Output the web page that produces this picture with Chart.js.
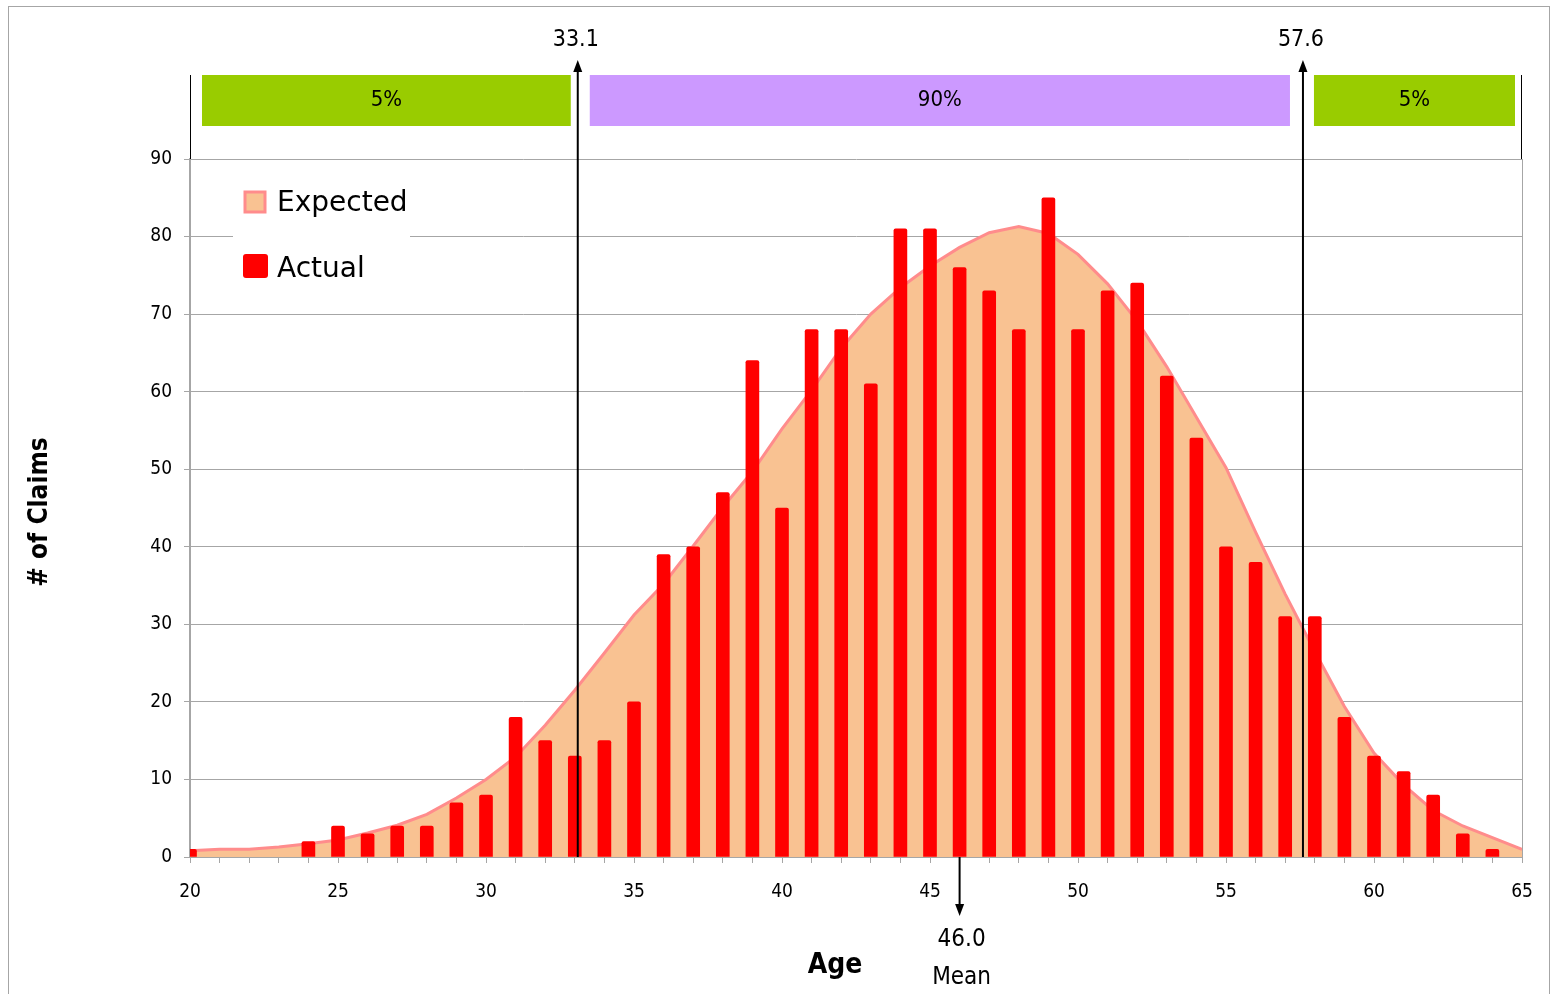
<!DOCTYPE html>
<html lang="en">
<head>
  <meta charset="UTF-8" />
  <title>Claims by Age</title>
  <script src="https://cdn.jsdelivr.net/npm/chart.js"></script>
  <style>
    html, body { margin: 0; padding: 0; background: #fff; }
    #wrap { width: 1552px; height: 994px; }
  </style>
</head>
<body>
  <div id="wrap"><canvas id="claimsChart" width="1552" height="994"></canvas></div>

  <script>
    // ages 20..65
    const ages = [20,21,22,23,24,25,26,27,28,29,30,31,32,33,34,35,36,37,38,39,40,41,42,
                  43,44,45,46,47,48,49,50,51,52,53,54,55,56,57,58,59,60,61,62,63,64,65];
    const actual = [1,0,0,0,2,4,3,4,4,7,8,18,15,13,15,20,39,40,47,64,45,68,68,
                    61,81,81,76,73,68,85,68,73,74,62,54,40,38,31,31,18,13,11,8,3,1,0];
    const expected = [0.8,1.0,1.0,1.3,1.7,2.2,3.1,4.1,5.5,7.6,10.0,12.9,17.0,21.5,26.3,31.2,35.2,40.1,45.1,49.7,55.2,60.2,65.6,
                      70.0,73.4,76.2,78.6,80.5,81.3,80.4,77.7,73.9,69.1,63.2,56.7,50.2,41.9,33.9,26.5,19.4,13.4,9.3,6.0,4.0,2.5,1.0];
    const yTicks = [0,10,20,30,40,50,60,70,80,90];
    const cutoffs = [33.1, 57.6];
    const meanAge = 46.0;
    const bandLabels = ['5%', '90%', '5%'];

    const COND = "'DejaVu Sans Condensed', 'Liberation Sans Narrow', sans-serif";
    const SANS = "'DejaVu Sans', sans-serif";

    function arrowHead(ctx, x, y, dir) {
      // dir -1 = pointing up, 1 = pointing down
      ctx.beginPath();
      ctx.moveTo(x, y);
      ctx.lineTo(x - 4.5, y - dir * 12);
      ctx.lineTo(x + 4.5, y - dir * 12);
      ctx.closePath();
      ctx.fill();
    }

    const decor = {
      id: 'decor',
      beforeDraw(chart) {
        const ctx = chart.ctx;
        ctx.save();
        ctx.strokeStyle = '#a6a6a6';
        ctx.lineWidth = 1;
        ctx.strokeRect(8.5, 6.5, 1541, 1010);
        ctx.restore();
      },
      afterDatasetsDraw(chart) {
        const ctx = chart.ctx;
        const xs = chart.scales.x;
        const a = chart.chartArea;
        ctx.save();

        // right border of the plot
        ctx.strokeStyle = '#a6a6a6';
        ctx.lineWidth = 1;
        ctx.beginPath();
        ctx.moveTo(a.right + 0.5, a.top);
        ctx.lineTo(a.right + 0.5, a.bottom);
        ctx.stroke();

        // band frame edges
        ctx.strokeStyle = '#000';
        ctx.beginPath();
        ctx.moveTo(a.left + 0.5, 75); ctx.lineTo(a.left + 0.5, a.top);
        ctx.moveTo(a.right - 0.5, 75); ctx.lineTo(a.right - 0.5, a.top);
        ctx.stroke();

        // percentage bands
        const c1 = xs.getPixelForValue(cutoffs[0]);
        const c2 = xs.getPixelForValue(cutoffs[1]);
        const bands = [
          [a.left + 12, c1 - 7, '#99cc00'],
          [c1 + 12, c2 - 13, '#cc99ff'],
          [c2 + 11, a.right - 7, '#99cc00']
        ];
        ctx.font = '22px ' + COND;
        ctx.textAlign = 'center';
        ctx.textBaseline = 'middle';
        bands.forEach((b, i) => {
          ctx.fillStyle = b[2];
          ctx.fillRect(b[0], 75, b[1] - b[0], 51);
          ctx.fillStyle = '#000';
          ctx.fillText(bandLabels[i], (b[0] + b[1]) / 2, 100);
        });

        // cutoff lines with arrows
        ctx.strokeStyle = '#000';
        ctx.fillStyle = '#000';
        ctx.lineWidth = 2;
        cutoffs.forEach(v => {
          const px = xs.getPixelForValue(v);
          ctx.beginPath();
          ctx.moveTo(px, a.bottom);
          ctx.lineTo(px, 70);
          ctx.stroke();
          arrowHead(ctx, px, 60, -1);
          ctx.font = '23px ' + COND;
          ctx.textBaseline = 'middle';
          ctx.fillText(v.toFixed(1), px - 2, 40);
        });

        // mean arrow
        const mx = xs.getPixelForValue(meanAge);
        ctx.beginPath();
        ctx.moveTo(mx, a.bottom);
        ctx.lineTo(mx, 905);
        ctx.stroke();
        arrowHead(ctx, mx, 916, 1);
        ctx.font = '24px ' + COND;
        ctx.fillText(meanAge.toFixed(1), mx + 2, 940);
        ctx.fillText('Mean', mx + 2, 978);

        // axis titles
        ctx.font = 'bold 28px ' + COND;
        ctx.fillText('Age', 835, 966);
        ctx.save();
        ctx.translate(40, 512);
        ctx.rotate(-Math.PI / 2);
        ctx.font = 'bold 26px ' + COND;
        ctx.fillText('# of Claims', 0, 0);
        ctx.restore();

        // legend
        ctx.fillStyle = '#fff';
        ctx.fillRect(233, 178, 177, 115);
        ctx.fillStyle = '#f9c292';
        ctx.strokeStyle = '#ff8c8c';
        ctx.lineWidth = 3;
        ctx.fillRect(245, 192, 20, 20);
        ctx.strokeRect(245, 192, 20, 20);
        ctx.fillStyle = '#ff0000';
        ctx.beginPath();
        ctx.roundRect(243, 254, 25, 24, 3);
        ctx.fill();
        ctx.fillStyle = '#000';
        ctx.textAlign = 'left';
        ctx.font = '28px ' + SANS;
        ctx.fillText('Expected', 277, 204);
        ctx.fillText('Actual', 277, 270);

        ctx.restore();
      }
    };

    const ctx = document.getElementById('claimsChart').getContext('2d');
    new Chart(ctx, {
      data: {
        datasets: [
          {
            type: 'bar',
            label: 'Actual',
            data: ages.map((a, i) => ({ x: a, y: actual[i] || null })),
            backgroundColor: '#ff0000',
            barThickness: 13,
            borderRadius: { topLeft: 2, topRight: 2 },
            borderSkipped: 'bottom',
            order: 1
          },
          {
            type: 'line',
            label: 'Expected',
            data: ages.map((a, i) => ({ x: a, y: expected[i] })),
            borderColor: '#ff8c8c',
            backgroundColor: '#f9c292',
            borderWidth: 3,
            pointRadius: 0,
            tension: 0,
            fill: 'origin',
            order: 2
          }
        ]
      },
      options: {
        responsive: false,
        animation: false,
        layout: { padding: { top: 159, right: 30, left: 0, bottom: 0 } },
        plugins: { legend: { display: false }, tooltip: { enabled: false } },
        scales: {
          x: {
            type: 'linear',
            min: 20,
            max: 65,
            offset: false,
            afterBuildTicks: s => { s.ticks = ages.map(v => ({ value: v })); },
            afterFit: s => { s.height = 137; },
            ticks: {
              autoSkip: false,
              maxRotation: 0,
              padding: 18,
              color: '#000',
              font: { size: 19, family: COND },
              callback: v => (v % 5 === 0 ? String(v) : '')
            },
            grid: { offset: false, drawOnChartArea: false, drawTicks: true, tickLength: 6, color: '#a6a6a6' },
            border: { color: '#a6a6a6', width: 2 }
          },
          y: {
            min: 0,
            max: 90,
            afterBuildTicks: s => { s.ticks = yTicks.map(v => ({ value: v })); },
            afterFit: s => { s.width = 190; },
            ticks: {
              padding: 12,
              color: '#000',
              font: { size: 19, family: COND }
            },
            grid: { color: '#a6a6a6', tickLength: 6 },
            border: { color: '#a6a6a6', width: 2 }
          }
        }
      },
      plugins: [decor]
    });
  </script>
</body>
</html>
